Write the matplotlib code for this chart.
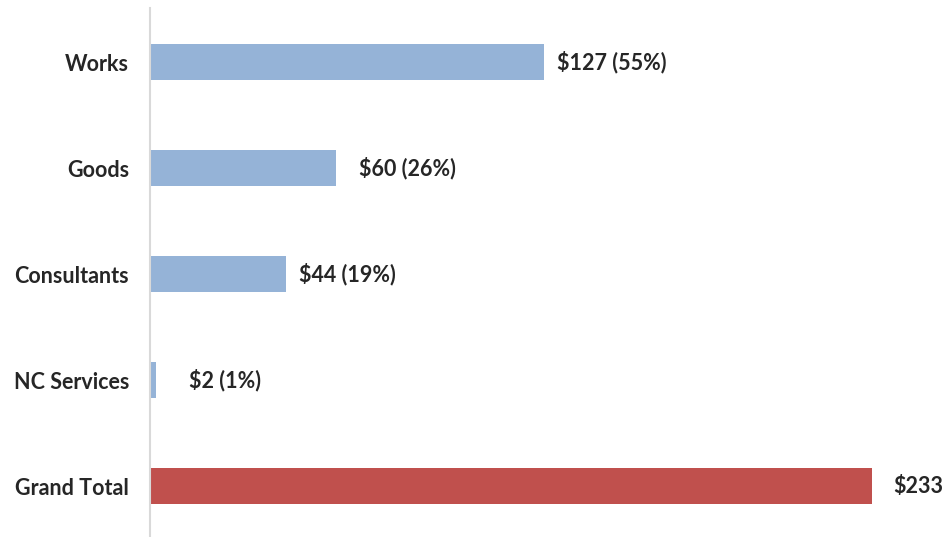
import numpy as np
import matplotlib.pyplot as plt

categories = ['Works', 'Goods', 'Consultants', 'NC Services', 'Grand Total']
values = [127, 60, 44, 2, 233]
labels = ['$127 (55%)', '$60 (26%)', '$44 (19%)', '$2 (1%)', '$233']

plt.rcParams['font.family'] = ['Lato', 'DejaVu Sans']
plt.rcParams['font.weight'] = 'bold'

fig = plt.figure(figsize=(9.45, 5.37), dpi=100)
ax = fig.add_axes([150/945, 0, 795/945, 529/537])

colors = ['#95B3D7'] * 4 + ['#C0504D']
y = np.arange(len(categories))
ax.barh(y, values, height=0.34, color=colors)

ax.set_xlim(0, 795/3.099)
ax.set_ylim(4.48, -0.51)
ax.set_yticks(y)
ax.set_yticklabels(categories, fontsize=15.5, color='#262626', fontweight='bold')
ax.tick_params(axis='y', length=0, pad=15)
ax.set_xticks([])

for s in ['top', 'right', 'bottom']:
    ax.spines[s].set_visible(False)
ax.spines['left'].set_color('#D9D9D9')
ax.spines['left'].set_linewidth(1.5)

# excel put the labels at slightly different gaps
gaps = [13, 23, 13, 33, 21]
for yi, v, lab, g in zip(y, values, labels, gaps):
    ax.annotate(lab, (v, yi), xytext=(g * 0.72, 0), textcoords='offset points',
                va='center', ha='left', fontsize=15.5, color='#262626', fontweight='bold')

fig.savefig('out.png', dpi=100)
